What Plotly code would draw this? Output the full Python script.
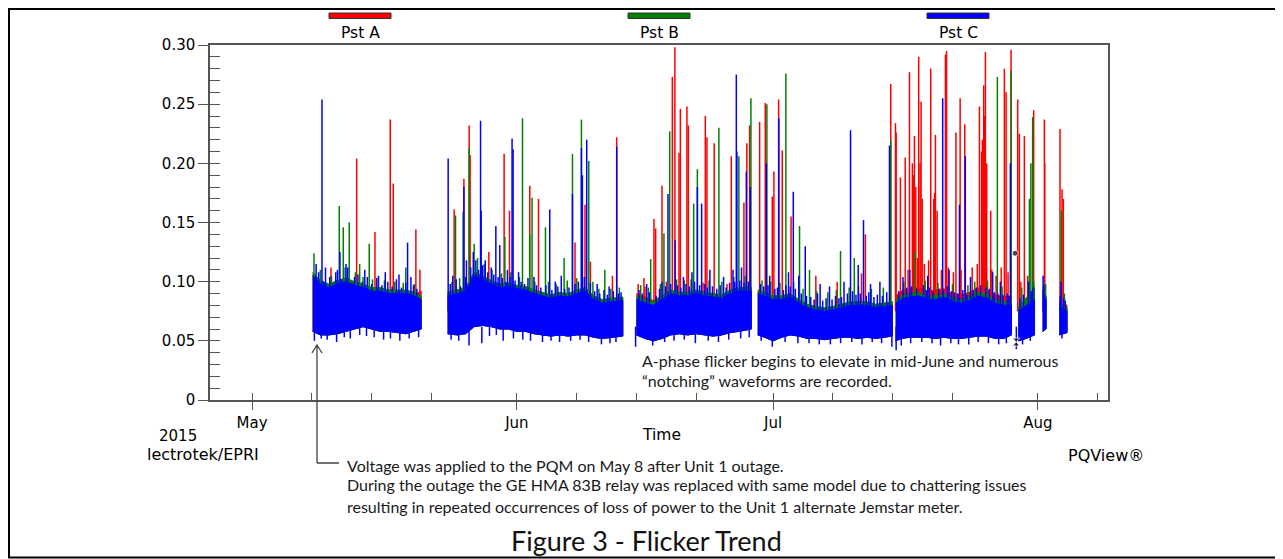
import pandas as pd
import plotly.graph_objects as go

# ---------------- DATA ----------------
# time is given in days after 2015-05-01 00:00
START = "2015-05-01"

# envelope of the dense Pst band (per day), segment id marks recording gaps
band_seg = [0]*14 + [1]*21 + [2]*14 + [3]*16 + [4]*15 + [5]*3 + [6]*2 + [7]*2
band_day = [7.1, 8, 9, 10, 11, 12, 13, 14, 15, 16, 17, 18, 19, 19.8,
            22.9, 24, 25, 26, 27, 28, 29, 30, 31, 32, 33, 34, 35, 36, 37, 38, 39, 40, 41, 42, 43.4,
            45.0, 46, 47, 48, 49, 50, 51, 52, 53, 54, 55, 56, 57, 58.45,
            59.2, 60, 61, 62, 63, 64, 65, 66, 67, 68, 69, 70, 71, 72, 73, 74.95,
            75.35, 76, 77, 78, 79, 80, 81, 82, 83, 84, 85, 86, 87, 88, 88.9,
            89.7, 90.6, 91.6,
            92.55, 92.95,
            94.5, 95.4]
band_lo = [.058, .055, .055, .056, .058, .060, .062, .060, .058, .058, .057, .056, .058, .060,
           .056, .055, .056, .062, .063, .062, .060, .060, .058, .058, .056, .055, .054, .055, .054, .055, .055, .053, .052, .053, .054,
           .055, .052, .050, .052, .055, .056, .055, .056, .055, .054, .055, .057, .058, .060,
           .055, .053, .050, .053, .055, .054, .052, .052, .051, .052, .053, .053, .052, .053, .052, .054,
           .050, .052, .053, .053, .053, .052, .053, .052, .052, .053, .054, .054, .052, .052, .055,
           .050, .052, .055,
           .058, .060,
           .055, .057]
blue_hi = [.105, .098, .095, .098, .100, .097, .095, .092, .092, .090, .090, .090, .088, .085,
           .088, .090, .092, .105, .102, .098, .095, .096, .094, .093, .090, .088, .086, .088, .087, .090, .092, .085, .082, .083, .084,
           .085, .082, .080, .085, .090, .088, .088, .090, .088, .087, .086, .090, .092, .092,
           .090, .088, .085, .085, .087, .082, .078, .076, .075, .076, .078, .080, .080, .080, .078, .080,
           .082, .085, .087, .088, .085, .085, .087, .083, .082, .084, .088, .086, .082, .080, .080,
           .075, .080, .085,
           .090, .085,
           .078, .075]
green_hi = [.108, .101, .098, .101, .103, .100, .098, .095, .095, .093, .093, .093, .091, .088,
            .091, .093, .095, .108, .105, .101, .098, .099, .097, .096, .093, .091, .089, .091, .090, .093, .095, .088, .085, .086, .087,
            .088, .085, .083, .088, .093, .091, .091, .093, .091, .090, .089, .093, .095, .095,
            .093, .091, .088, .088, .090, .085, .081, .079, .078, .079, .081, .083, .083, .083, .081, .083,
            .085, .088, .090, .091, .088, .088, .090, .086, .085, .087, .091, .089, .085, .083, .083,
            .078, .086, .095,
            .092, .087,
            .081, .078]
red_hi = [.106, .099, .096, .099, .101, .098, .096, .093, .093, .091, .091, .091, .089, .092,
          .089, .091, .093, .106, .103, .099, .096, .097, .095, .094, .091, .089, .087, .089, .088, .091, .093, .086, .083, .084, .086,
          .090, .087, .084, .088, .092, .091, .090, .092, .090, .089, .088, .092, .094, .094,
          .091, .089, .086, .086, .088, .083, .079, .077, .076, .077, .079, .081, .081, .081, .079, .083,
          .088, .092, .094, .095, .092, .093, .094, .090, .089, .091, .095, .093, .089, .087, .088,
          .078, .083, .088,
          .093, .088,
          .083, .080]

# individual excursions [day, Pst]
red_spikes = [
    [9.24, .112], [12.25, .204], [14.39, .142], [16.18, .237], [16.53, .183], [19.18, .144], [19.65, .110],
    [23.66, .161], [24.80, .187], [25.42, .232], [25.53, .207], [27.72, .125], [29.51, .208], [30.14, .160],
    [32.51, .181], [33.53, .170], [37.81, .133], [38.98, .165], [39.61, .117], [42.19, .105], [42.69, .222],
    [45.2, .098], [45.88, .103], [46.0, .096], [47.05, .153], [47.25, .145], [47.99, .181], [48.5, .100],
    [49.20, .273], [49.50, .298], [49.98, .209], [50.14, .246], [50.91, .248], [51.07, .232], [52.8, .099],
    [53.06, .240], [53.25, .222], [54.10, .217], [55.6, .098], [56.10, .206], [57.58, .167], [57.92, .217],
    [58.25, .232],
    [59.42, .235], [60.08, .251], [60.90, .172], [61.09, .193], [61.64, .254], [62.07, .211], [63.10, .155],
    [66.0, .105], [68.5, .100], [71.35, .107], [71.80, .140],
    [74.77, .267], [75.32, .234], [75.40, .226], [75.90, .188], [76.46, .205], [76.8, .110], [76.96, .277],
    [77.30, .200], [77.42, .190], [77.54, .223], [77.70, .180], [77.9, .120], [78.04, .290], [78.20, .200],
    [78.32, .252], [78.45, .170], [78.7, .115], [79.2, .118], [79.45, .280], [79.80, .170], [79.90, .175],
    [80.00, .224], [80.20, .160], [80.7, .110], [81.17, .292], [81.30, .295], [81.5, .112], [82.1, .108],
    [82.40, .226], [82.89, .255], [83.0, .110], [83.43, .233], [84.3, .112], [84.9, .115], [85.15, .248],
    [85.40, .210], [85.50, .220], [85.65, .266], [85.75, .240], [85.85, .294], [86.00, .200], [86.47, .160],
    [86.6, .110], [87.1, .105], [87.7, .112], [88.07, .280], [88.27, .260], [88.5, .108], [88.85, .296],
    [89.63, .254], [89.82, .225], [90.0, .100], [90.41, .223], [90.8, .105], [91.50, .245], [92.75, .237],
    [92.80, .200], [94.58, .229], [94.82, .178], [94.97, .170],
]
green_spikes = [
    [7.25, .124], [8.0, .110], [9.3, .105], [10.21, .164], [10.68, .146], [10.9, .112], [11.38, .150],
    [12.1, .108], [12.60, .115], [13.0, .104], [13.72, .132], [14.1, .102], [15.5, .101], [16.7, .100],
    [17.7, .099], [18.0, .112], [19.0, .098],
    [23.4, .100], [23.82, .156], [24.3, .103], [24.71, .159], [25.42, .213], [26.0, .132], [26.4, .120],
    [26.8, .118], [27.2, .115], [28.1, .110], [29.2, .107], [29.6, .138], [30.3, .108], [31.3, .104],
    [31.66, .238], [32.5, .140], [32.78, .171], [33.1, .100], [34.35, .146], [34.7, .100], [35.6, .098],
    [36.53, .120], [36.9, .101], [37.51, .208], [38.0, .103], [38.56, .237], [39.42, .202], [39.9, .100],
    [40.6, .094], [41.3, .110], [42.0, .094], [43.0, .095],
    [45.5, .097], [46.4, .095], [46.67, .119], [47.8, .098], [48.22, .141], [48.89, .227], [49.7, .102],
    [50.6, .101], [51.4, .102], [51.7, .166], [52.13, .195], [53.5, .101], [54.65, .230], [55.0, .100],
    [56.4, .104], [56.99, .206], [57.7, .105], [58.40, .255],
    [59.7, .101], [60.27, .250], [60.7, .100], [61.8, .099], [62.49, .276], [63.4, .100], [64.09, .147],
    [64.5, .094], [65.26, .110], [66.1, .092], [67.4, .091], [68.4, .093], [68.89, .126], [69.9, .095],
    [70.5, .120], [71.0, .096], [72.5, .094], [73.9, .095], [74.77, .220],
    [76.3, .100], [77.6, .125], [78.8, .101], [80.3, .099], [82.0, .098], [83.8, .097], [84.6, .100],
    [86.1, .101], [87.25, .273], [87.8, .096], [88.85, .278], [90.1, .095], [91.0, .170], [91.17, .200],
    [91.38, .239], [91.5, .100], [92.9, .098], [94.74, .160], [95.1, .090],
]
blue_spikes = [
    [7.5, .115], [7.8, .108], [8.19, .254], [8.4, .100], [8.6, .112], [9.1, .104], [9.5, .098], [9.8, .108],
    [10.0, .110], [10.29, .125], [10.5, .102], [11.0, .115], [11.2, .112], [11.7, .099], [12.0, .104],
    [12.4, .106], [12.9, .100], [13.2, .110], [13.5, .104], [14.0, .098], [14.6, .103], [14.8, .105],
    [15.2, .097], [15.6, .108], [15.9, .100], [16.4, .096], [16.9, .102], [17.2, .106], [17.5, .095],
    [18.0, .099], [18.21, .133], [18.6, .104], [18.9, .097], [19.3, .094],
    [22.96, .204], [23.2, .098], [23.5, .105], [23.9, .102], [24.4, .096], [24.8, .180], [25.0, .104],
    [25.1, .118], [25.6, .112], [25.9, .125], [26.2, .118], [26.5, .110], [26.75, .236], [26.82, .160],
    [27.0, .114], [27.3, .118], [27.6, .108], [28.0, .112], [28.3, .106], [28.54, .147], [28.8, .104],
    [29.0, .131], [29.3, .103], [29.7, .100], [29.9, .110], [30.2, .104], [30.44, .221], [30.56, .212],
    [30.8, .101], [31.2, .108], [31.5, .100], [31.9, .098], [32.3, .103], [33.0, .104], [33.3, .097],
    [33.8, .095], [34.4, .097], [34.85, .161], [35.1, .093], [35.5, .100], [35.8, .096], [36.2, .105],
    [36.6, .094], [37.1, .095], [37.51, .174], [37.8, .098], [38.2, .100], [38.56, .213], [38.67, .190],
    [38.9, .104], [39.18, .220], [39.6, .099], [40.1, .092], [40.4, .098], [40.7, .090], [41.2, .093],
    [41.6, .089], [41.8, .096], [42.3, .092], [42.69, .214], [42.9, .090], [43.2, .091],
    [45.3, .093], [45.7, .090], [46.2, .098], [46.5, .091], [47.3, .088], [47.7, .094], [48.0, .100],
    [48.4, .096], [48.69, .174], [49.0, .098], [49.53, .135], [49.8, .097], [50.2, .095], [50.5, .104],
    [50.8, .098], [51.2, .096], [51.5, .108], [51.8, .100], [52.13, .180], [52.4, .097], [52.63, .166],
    [53.0, .098], [53.3, .095], [53.6, .110], [53.9, .096], [54.4, .094], [54.8, .097], [55.2, .104],
    [55.5, .095], [55.9, .099], [56.3, .110], [56.5, .100], [56.69, .275], [56.76, .210], [57.1, .101],
    [57.3, .112], [57.6, .099], [57.86, .193], [58.1, .100], [58.33, .180],
    [59.5, .098], [59.9, .096], [60.2, .200], [60.4, .097], [60.6, .105], [61.2, .094], [61.5, .095],
    [61.67, .238], [62.2, .093], [62.5, .097], [62.8, .108], [63.0, .096], [63.36, .176], [63.6, .094],
    [64.0, .105], [64.3, .090], [64.76, .130], [64.9, .088], [65.4, .087], [65.8, .085], [66.2, .090],
    [66.5, .098], [66.8, .084], [67.2, .086], [67.6, .096], [67.9, .085], [68.3, .088], [68.7, .086],
    [69.0, .087], [69.3, .100], [69.7, .090], [70.06, .228], [70.3, .092], [70.7, .089], [70.96, .114],
    [71.2, .090], [71.58, .152], [71.9, .088], [72.2, .091], [72.4, .098], [72.8, .087], [73.2, .089],
    [73.5, .100], [73.8, .088], [74.3, .091], [74.62, .215],
    [75.7, .092], [76.2, .104], [76.6, .095], [77.0, .110], [77.2, .096], [77.8, .094], [78.6, .097],
    [78.9, .093], [79.1, .105], [79.3, .095], [79.7, .092], [80.4, .094], [80.85, .255], [80.9, .093],
    [81.4, .096], [81.6, .110], [81.9, .092], [82.2, .091], [82.6, .090], [82.81, .165], [83.2, .093],
    [83.5, .206], [83.7, .089], [84.1, .104], [84.4, .093], [84.8, .095], [85.3, .097], [85.9, .095],
    [86.3, .094], [86.7, .108], [86.9, .091], [87.3, .090], [87.6, .100], [87.9, .089], [88.4, .090],
    [88.6, .088], [88.77, .200],
    [89.9, .086], [90.3, .089], [90.9, .100], [91.2, .092], [91.4, .095], [92.6, .105], [92.7, .097],
    [94.6, .088], [94.7, .100], [95.0, .086], [95.2, .084],
]
blue_dips = [
    [7.3, .050], [8.1, .052], [8.8, .051], [9.9, .049], [10.8, .053], [11.5, .052], [12.6, .055],
    [13.4, .054], [14.3, .053], [15.4, .051], [16.2, .052], [17.3, .050], [18.4, .052], [19.5, .053],
    [23.3, .051], [24.2, .050], [25.4, .046], [26.9, .048], [27.8, .054], [28.6, .055], [29.4, .050],
    [30.6, .052], [31.7, .051], [32.6, .050], [34.0, .049], [35.0, .050], [36.0, .049], [37.3, .050],
    [38.4, .051], [39.4, .049], [40.9, .047], [41.9, .048], [42.6, .049],
    [44.9, .045], [46.9, .046], [48.3, .049], [49.4, .050], [50.6, .051], [51.9, .048], [53.4, .050],
    [54.6, .049], [55.8, .051], [57.2, .052], [58.2, .053],
    [59.6, .050], [60.9, .045], [62.4, .049], [63.9, .048], [65.2, .048], [66.4, .047], [67.7, .047],
    [68.9, .048], [70.2, .049], [71.4, .047], [72.6, .049], [73.7, .048], [74.9, .045],
    [75.4, .042], [76.0, .046], [77.1, .048], [78.4, .049], [79.6, .048], [80.6, .046], [81.8, .048],
    [82.7, .047], [83.9, .047], [85.0, .049], [86.2, .048], [87.4, .047], [88.3, .048], [89.47, .043],
    [90.2, .047], [91.1, .050], [94.8, .052],
]
event_marks = [[89.33, .124], [89.45, .049]]

y_ticks = [0, 0.05, 0.10, 0.15, 0.20, 0.25, 0.30]
y_labels = ["0", "0.05", "0.10", "0.15", "0.20", "0.25", "0.30"]
month_ticks = ["2015-05-01", "2015-06-01", "2015-07-01", "2015-08-01"]
month_labels = ["May", "Jun", "Jul", "Aug"]
week_ticks = ["2015-05-01", "2015-05-08", "2015-05-15", "2015-05-22",
              "2015-06-01", "2015-06-08", "2015-06-15", "2015-06-22",
              "2015-07-01", "2015-07-08", "2015-07-15", "2015-07-22",
              "2015-08-01", "2015-08-08"]
series_names = ["Pst A", "Pst B", "Pst C"]
series_colors = ["#ff0000", "#008000", "#0000ff"]

# ---------------- helpers ----------------
T0 = pd.Timestamp(START)


def t(d):
    return (T0 + pd.Timedelta(days=d)).strftime("%Y-%m-%d %H:%M:%S")


def band_trace(lo, hi, color):
    xs, ys = [], []
    for s in sorted(set(band_seg)):
        idx = [i for i, g in enumerate(band_seg) if g == s]
        xs += [t(band_day[i]) for i in idx] + [t(band_day[i]) for i in reversed(idx)] + [None]
        ys += [hi[i] for i in idx] + [lo[i] for i in reversed(idx)] + [None]
    return go.Scatter(x=xs, y=ys, mode="lines", fill="toself", fillcolor=color,
                      line=dict(color=color, width=1), hoverinfo="skip", showlegend=False)


def spike_trace(spikes, base, color, width=1.5):
    xs, ys = [], []
    for d, v in spikes:
        xs += [t(d), t(d), None]
        ys += [base, v, None]
    return go.Scatter(x=xs, y=ys, mode="lines", line=dict(color=color, width=width),
                      hoverinfo="skip", showlegend=False)


red, green, blue = series_colors
fig = go.Figure()
fig.add_trace(band_trace(band_lo, red_hi, red))
fig.add_trace(spike_trace(red_spikes, 0.075, red))
fig.add_trace(band_trace(band_lo, green_hi, green))
fig.add_trace(spike_trace(green_spikes, 0.075, green))
fig.add_trace(band_trace(band_lo, blue_hi, blue))
fig.add_trace(spike_trace(blue_spikes, 0.075, blue))
fig.add_trace(spike_trace(blue_dips, 0.062, blue))
fig.add_trace(go.Scatter(x=[t(d) for d, _ in event_marks], y=[v for _, v in event_marks],
                         mode="markers", marker=dict(color="black", size=[6, 8],
                                                     symbol=["circle", "hourglass"]),
                         hoverinfo="skip", showlegend=False))
# invisible trace so the overlay (tick) axes are drawn
fig.add_trace(go.Scatter(x=[t(0)], y=[0], xaxis="x2", yaxis="y2", mode="lines",
                         hoverinfo="skip", showlegend=False))

AX = "#555555"
CHART_FONT = "DejaVu Sans"
NOTE_FONT = "Lato"
xr = [t(-4.92), t(100.2)]

# the page body has an 8px margin: figure is 8px smaller so the plot lands at 210..1108 x 45..400
fig.update_layout(
    width=1275, height=551,
    margin=dict(l=202, r=175, t=37, b=159),
    paper_bgcolor="white", plot_bgcolor="white", showlegend=False,
    xaxis=dict(type="date", range=xr, tickvals=month_ticks, ticktext=month_labels,
               ticks="outside", ticklen=8, tickwidth=1.2, tickcolor=AX,
               showline=True, linecolor=AX, linewidth=1.5, mirror=True,
               showgrid=False, zeroline=False,
               tickfont=dict(family=CHART_FONT, size=15, color="black")),
    xaxis2=dict(type="date", range=xr, overlaying="x", anchor="y", side="bottom",
                tickvals=week_ticks, ticks="inside", ticklen=7, tickwidth=1.2, tickcolor=AX,
                showticklabels=False, showline=False, showgrid=False, zeroline=False),
    yaxis=dict(range=[0, 0.30], tickvals=y_ticks, ticktext=y_labels,
               ticks="outside", ticklen=10, tickwidth=1.2, tickcolor=AX,
               showline=True, linecolor=AX, linewidth=1.5, mirror=True,
               showgrid=False, zeroline=False,
               tickfont=dict(family=CHART_FONT, size=15, color="black")),
    yaxis2=dict(range=[0, 0.30], overlaying="y", anchor="x", side="left",
                tick0=0, dtick=0.01, ticks="inside", ticklen=10, tickwidth=1.2, tickcolor=AX,
                showticklabels=False, showline=False, showgrid=False, zeroline=False),
)

# screen pixel -> paper helpers for decorations (plot area 210..1108 x 45..400)


def px(x):
    return (x - 210) / 898.0


def py(y):
    return (400 - y) / 355.0


ann = []


def text(s, x, y, font, size, xanchor="left", color="black"):
    ann.append(dict(text=s, x=px(x), y=py(y), xref="paper", yref="paper", showarrow=False,
                    xanchor=xanchor, yanchor="middle",
                    font=dict(family=font, size=size, color=color)))


# legend
leg_centers = [360, 659, 958]
shapes = []
for name, col, cx in zip(series_names, series_colors, leg_centers):
    shapes.append(dict(type="rect", xref="paper", yref="paper",
                       x0=px(cx - 31), x1=px(cx + 31), y0=py(18.5), y1=py(13),
                       fillcolor=col, line=dict(color="#333333", width=1)))
    text(name, cx, 33, CHART_FONT, 15.5, "center")

text("2015", 178, 436, CHART_FONT, 15, "center")
text("lectrotek/EPRI", 203, 454, CHART_FONT, 16, "center")
text("Time", 640, 435, CHART_FONT, 15.5, "left")
text("PQView®", 1066, 455, CHART_FONT, 16, "left")
NOTE_C = "#1a1a1a"
text("A-phase flicker begins to elevate in mid-June and numerous", 640, 360, NOTE_FONT, 16, "left", NOTE_C)
text("“notching” waveforms are recorded.", 640, 380, NOTE_FONT, 16, "left", NOTE_C)
text("Voltage was applied to the PQM on May 8 after Unit 1 outage.", 345, 465, NOTE_FONT, 16, "left", NOTE_C)
text("During the outage the GE HMA 83B relay was replaced with same model due to chattering issues",
     345, 485, NOTE_FONT, 16, "left", NOTE_C)
text("resulting in repeated occurrences of loss of power to the Unit 1 alternate Jemstar meter.",
     345, 506, NOTE_FONT, 16, "left", NOTE_C)
text("Figure 3 - Flicker Trend", 646, 540, NOTE_FONT, 27, "center", "#111111")

# pointer arrow to the first recorded data (May 8)
arr = "#444444"
shapes.append(dict(type="path", xref="paper", yref="paper",
                   path=f"M {px(317)},{py(463)} L {px(317)},{py(346)} M {px(312)},{py(353)} L {px(317)},{py(345)} L {px(322)},{py(353)} "
                        f"M {px(317)},{py(463)} L {px(339)},{py(463)}",
                   line=dict(color=arr, width=1.3)))

# outer frame of the figure (left, top and bottom edges)
shapes.append(dict(type="path", xref="paper", yref="paper",
                   path=f"M {px(1283)},{py(9)} L {px(9)},{py(9)} L {px(9)},{py(557.5)} L {px(1283)},{py(557.5)}",
                   line=dict(color="black", width=2)))

fig.update_layout(annotations=ann, shapes=shapes)
fig.write_html("out.html")
